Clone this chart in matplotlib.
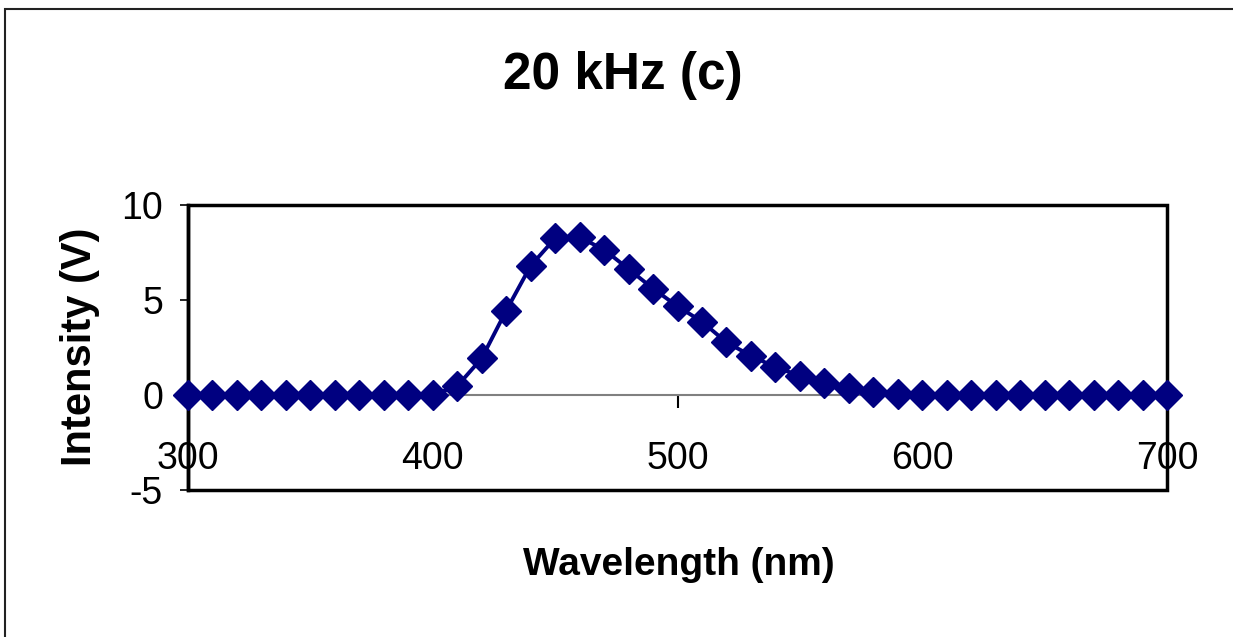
import numpy as np
import matplotlib.pyplot as plt
from matplotlib.patches import Rectangle

plt.rcParams['font.family'] = ['Liberation Sans', 'DejaVu Sans']
plt.rcParams['axes.unicode_minus'] = False

### Data
wavelength = np.arange(300, 701, 10)
intensity = [0, 0, 0, 0, 0, 0, 0, 0, 0, 0,
             0, 0.47, 1.93, 4.44, 6.8, 8.25, 8.3, 7.65, 6.63, 5.6,
             4.67, 3.86, 2.77, 2.07, 1.46, 1.02, 0.63, 0.35, 0.17, 0.07,
             0, 0, 0, 0, 0, 0, 0, 0, 0, 0,
             0]
x_ticks = [300, 400, 500, 600, 700]
y_ticks = [-5, 0, 5, 10]

navy = "#000080"

fig = plt.figure(figsize=(12.33, 6.37), dpi=100)
ax = fig.add_axes([188 / 1233, 1 - 490 / 637, 979 / 1233, 285 / 637])

ax.plot(wavelength, intensity, color=navy, lw=2.8, marker="D", ms=15,
        mec=navy, mfc=navy, mew=1, clip_on=False, zorder=5)

ax.set_xlim(300, 700)
ax.set_ylim(-5, 10)
ax.set_xticks(x_ticks)
ax.set_yticks(y_ticks)

# x axis crosses at y = 0, like Excel
ax.spines["bottom"].set_position(("data", 0))
ax.spines["bottom"].set_color("#808080")
ax.spines["bottom"].set_linewidth(1.5)
ax.spines["left"].set_linewidth(2.5)
ax.spines["top"].set_visible(False)
ax.spines["right"].set_visible(False)
ax.add_patch(Rectangle((0, 0), 1, 1, transform=ax.transAxes, fill=False,
                       ec="black", lw=2.5, clip_on=False, zorder=4))

ax.tick_params(axis="x", direction="out", length=9, width=1.5,
               color="black", pad=24, labelsize=27)
ax.tick_params(axis="y", direction="out", length=6, width=1.2,
               pad=12, labelsize=27)

fig.text(0.505, 0.882, "20 kHz (c)", ha="center", va="center",
         fontsize=37, fontweight="bold")
fig.text(679 / 1233, 1 - 565 / 637, "Wavelength (nm)", ha="center",
         va="center", fontsize=28, fontweight="bold")
fig.text(80 / 1233, 1 - 347 / 637, "Intensity (V)", ha="center",
         va="center", rotation=90, fontsize=30, fontweight="bold")

# outer chart border (cut off on the right and bottom)
fig.add_artist(Rectangle((5 / 1233, -0.05), 1.1, 1 - 9 / 637 + 0.05,
                         transform=fig.transFigure, fill=False,
                         ec="#222222", lw=1.5))

fig.savefig("out.png", dpi=100)
